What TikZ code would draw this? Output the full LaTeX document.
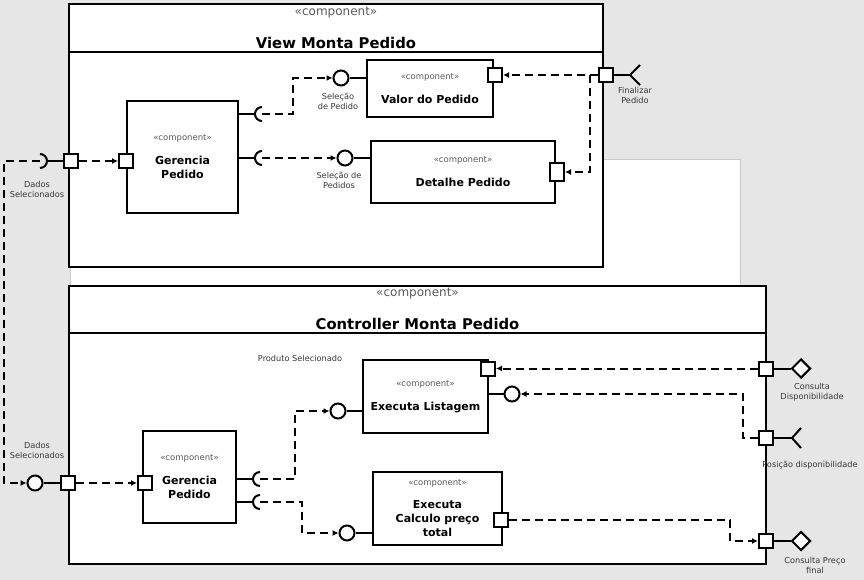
\documentclass[tikz,border=0pt]{standalone}
\usepackage{fontspec}
\setmainfont{DejaVu Sans}
\usepackage{tikz}
\usetikzlibrary{arrows,arrows.meta,shapes,positioning,calc}
\definecolor{canvas}{RGB}{230,230,230}
\definecolor{stereo}{RGB}{90,90,90}
\definecolor{lbl}{RGB}{55,55,55}
\definecolor{frame}{RGB}{200,200,200}
\tikzstyle{container} = [draw, line width=2pt, fill=white, inner sep=0]
\tikzstyle{comp}      = [draw, line width=2pt, fill=white, align=center, inner sep=0, font=\fontsize{11}{14}\selectfont\bfseries]
\tikzstyle{port}      = [draw, line width=2pt, fill=white, minimum size=14pt, inner sep=0]
\tikzstyle{provided}  = [circle, draw, line width=2pt, fill=white, minimum size=15pt, inner sep=0]
\tikzstyle{diam}      = [diamond, draw, line width=2pt, fill=white, minimum width=19pt, minimum height=19pt, inner sep=0]
\tikzstyle{link}      = [line width=2pt]
\tikzstyle{dep}       = [line width=2pt, dash pattern=on 8pt off 5pt, -{Latex[length=6pt,width=6pt]}]
\tikzstyle{note}      = [text=lbl, align=center, font=\fontsize{8.2}{10}\selectfont, inner sep=0]
\tikzstyle{head}      = [font=\fontsize{14.8}{17}\selectfont\bfseries, inner sep=0]
\tikzstyle{headst}    = [text=stereo, font=\fontsize{12}{14}\selectfont, inner sep=0]
\newcommand{\stereotype}{{\fontsize{8.5}{10}\selectfont\mdseries\color{stereo}«component»}}

\begin{document}
\begin{tikzpicture}[x=1pt,y=-1pt]
        \useasboundingbox (0,0) rectangle (864,580);
        \fill[canvas] (0,0) rectangle (864,580);
        \draw[frame, fill=white] (70,159) rectangle (740,286);

        % containers
        \node[container, minimum width=534pt, minimum height=263pt] (view) at (336,135.5) {};
        \draw[link] (view.west |- 0,52) -- (view.east |- 0,52);
        \node[headst] (viewst) at (336,13) {«component»};
        \node[head] (viewtitle) at (336,43) {View Monta Pedido};

        \node[container, minimum width=697pt, minimum height=278pt] (ctrl) at (417.5,425) {};
        \draw[link] (ctrl.west |- 0,333) -- (ctrl.east |- 0,333);
        \node[headst] (ctrlst) at (417.5,294) {«component»};
        \node[head] (ctrltitle) at (417.5,324) {Controller Monta Pedido};

        % view components
        \node[comp, minimum width=111pt, minimum height=112pt] (vger) at (182.5,157) {\stereotype\\[10pt]Gerencia\\Pedido};
        \node[comp, minimum width=126pt, minimum height=57pt] (valor) at (430,88.5) {\stereotype\\[10pt]Valor do Pedido};
        \node[comp, minimum width=184pt, minimum height=62pt] (detalhe) at (463,172) {\stereotype\\[10pt]Detalhe Pedido};

        % controller components
        \node[comp, minimum width=93pt, minimum height=92pt] (cger) at (189.5,477) {\stereotype\\[10pt]Gerencia\\Pedido};
        \node[comp, minimum width=125pt, minimum height=73pt] (listagem) at (425.5,396.5) {\stereotype\\[10pt]Executa Listagem};
        \node[comp, minimum width=129pt, minimum height=73pt] (calculo) at (437.5,508.5) {\stereotype\\[9pt]Executa\\Calculo preço\\total};

        % sockets and ends
        \coordinate (vsin) at (40,161);
        \coordinate (vsA) at (262,114);
        \coordinate (vsB) at (262,158);
        \coordinate (csA) at (260,479);
        \coordinate (csB) at (260,502);
        \coordinate (fin1) at (630,75);
        \coordinate (fin2) at (792,438);

        % ports
        \node[port] (vin) at (71,161) {};
        \node[port] (vgin) at (126,161) {};
        \node[port] (vout) at (606,75) {};
        \node[port] (valp) at (495,75) {};
        \node[port, minimum height=18pt] (detp) at (557,172) {};
        \node[port] (cin) at (68,483) {};
        \node[port] (cgin) at (145,483) {};
        \node[port] (listp) at (488,368.5) {};
        \node[port] (calcp) at (501,520) {};
        \node[port] (cp1) at (766,368.5) {};
        \node[port] (cp2) at (766,438) {};
        \node[port] (cp3) at (766,541) {};

        % provided interfaces
        \node[provided] (vsel1) at (341,78) {};
        \node[provided] (vsel2) at (345,158) {};
        \node[provided] (cprov) at (35,483) {};
        \node[provided] (csel1) at (338,411) {};
        \node[provided] (csel2) at (347,533) {};
        \node[provided] (lcirc) at (512,394) {};
        \node[diam] (cd1) at (801,368.5) {};
        \node[diam] (cd3) at (801,541) {};

        % solid links
        \draw[link] (vin) -- ($(vsin)+(7,0)$);
        \draw[link] (vsin) ++(0,-7) arc[start angle=90, end angle=-90, radius=7pt];
        \draw[link] (vsA -| vger.east) -- ($(vsA)+(-7,0)$);
        \draw[link] (vsA) ++(0,-7) arc[start angle=90, end angle=270, radius=7pt];
        \draw[link] (vsB -| vger.east) -- ($(vsB)+(-7,0)$);
        \draw[link] (vsB) ++(0,-7) arc[start angle=90, end angle=270, radius=7pt];
        \draw[link] (vsel1) -- (vsel1 -| valor.west);
        \draw[link] (vsel2) -- (vsel2 -| detalhe.west);
        \draw[link] (vout) -- (fin1);
        \draw[link] (fin1) ++(10,-10) -- (fin1) -- ++(10,10);

        \draw[link] (cprov) -- (cin);
        \draw[link] (csA -| cger.east) -- ($(csA)+(-7,0)$);
        \draw[link] (csA) ++(0,-7) arc[start angle=90, end angle=270, radius=7pt];
        \draw[link] (csB -| cger.east) -- ($(csB)+(-7,0)$);
        \draw[link] (csB) ++(0,-7) arc[start angle=90, end angle=270, radius=7pt];
        \draw[link] (csel1) -- (csel1 -| listagem.west);
        \draw[link] (csel2) -- (csel2 -| calculo.west);
        \draw[link] (lcirc) -- (lcirc -| listagem.east);
        \draw[link] (cp1) -- (cd1);
        \draw[link] (cp3) -- (cd3);
        \draw[link] (cp2) -- (fin2);
        \draw[link] (fin2) ++(9,-10) -- (fin2) -- ++(9,10);

        % dependencies
        \draw[dep] (vsin) -- ++(-36,0) |- (cprov);
        \draw[dep] (vin) -- (vgin);
        \draw[dep] (vsA) -- ++(31,0) |- (vsel1);
        \draw[dep] (vsB) -- (vsel2);
        \draw[dep] (vout) -- (valp);
        \draw[dep] ($(vout.west)+(-8,0)$) |- (detp);
        \draw[dep] (cin) -- (cgin);
        \draw[dep] (csA) -- ++(35,0) |- (csel1);
        \draw[dep] (csB) -- ++(42,0) |- (csel2);
        \draw[dep] (cp1) -- (listp);
        \draw[dep] (cp2) -- ++(-23,0) |- (lcirc);
        \draw[dep] (calcp) -- ++(229,0) |- (cp3);

        % labels
        \node[note] (vdados) at (37,189) {Dados\\Selecionados};
        \node[note] (vsel1lbl) at (338,101.5) {Seleção\\de Pedido};
        \node[note] (vsel2lbl) at (339,180) {Seleção de\\Pedidos};
        \node[note] (finlbl) at (635,95) {Finalizar\\Pedido};
        \node[note] (cdados) at (37,450.5) {Dados\\Selecionados};
        \node[note] (produto) at (300,358) {Produto Selecionado};
        \node[note] (cd1lbl) at (812,392) {Consulta\\Disponibilidade};
        \node[note] (poslbl) at (810,465) {Posição disponibilidade};
        \node[note] (cd3lbl) at (815,565.5) {Consulta Preço\\final};
    \end{tikzpicture}
\end{document}
